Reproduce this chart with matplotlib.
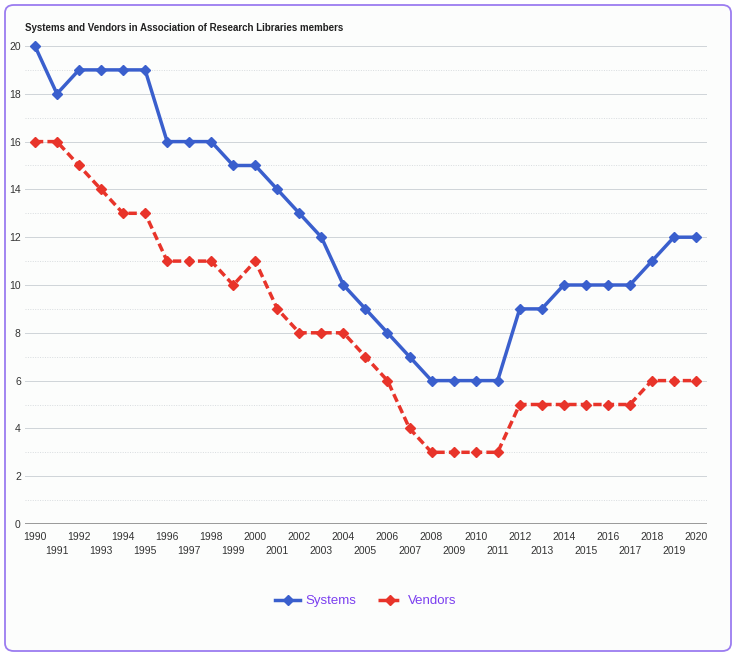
import matplotlib
matplotlib.use("Agg")
import matplotlib.pyplot as plt
from matplotlib.patches import FancyBboxPatch
from matplotlib.lines import Line2D

plt.rcParams['font.family'] = ['Liberation Sans', 'DejaVu Sans']

years = list(range(1990, 2021))
systems = [20, 18, 19, 19, 19, 19, 16, 16, 16, 15, 15, 14, 13, 12, 10, 9, 8, 7, 6, 6, 6, 6,
           9, 9, 10, 10, 10, 10, 11, 12, 12]
vendors = [16, 16, 15, 14, 13, 13, 11, 11, 11, 10, 11, 9, 8, 8, 8, 7, 6, 4, 3, 3, 3, 3,
           5, 5, 5, 5, 5, 5, 6, 6, 6]
title = "Systems and Vendors in Association of Research Libraries members"
series_names = ["Systems", "Vendors"]

blue = "#3a5fcd"
red = "#e8342a"
LW = 2.5
MS = 5.5
DASH = (0, (2.4, 1.2))
W, H = 736, 656
fig = plt.figure(figsize=(W / 100, H / 100), dpi=100)
fig.patch.set_facecolor("white")

border = FancyBboxPatch((5 / W, 5 / H), 726 / W, 646 / H,
                        boxstyle="round,pad=0,rounding_size=0.012",
                        transform=fig.transFigure, facecolor="#fcfdfc",
                        edgecolor="#9b7cf0", linewidth=1.3, zorder=-10)
fig.patches.append(border)

ax = fig.add_axes([25 / W, (H - 524) / H, 682 / W, 478 / H])
ax.set_facecolor("none")
ax.plot(years, systems, color=blue, lw=LW, marker="D", ms=MS, zorder=3, clip_on=False)
ax.plot(years, vendors, color=red, lw=LW, ls=DASH, marker="D", ms=MS, zorder=3, clip_on=False)

ax.set_xlim(1989.55, 2020.5)
ax.set_ylim(0, 20)
for y in range(2, 21, 2):
    ax.axhline(y, color="#cfd4d8", lw=0.7, zorder=1)
for y in range(1, 20, 2):
    ax.axhline(y, color="#d8dcdf", lw=0.7, ls=(0, (1, 1.5)), zorder=1)
ax.axhline(0, color="#888888", lw=1.2, zorder=2)

ax.set_yticks(range(0, 21, 2))
ax.set_yticklabels([str(v) for v in range(0, 21, 2)])
ax.set_xticks(years)
ax.set_xticklabels([str(y) if y % 2 == 0 else "\n" + str(y) for y in years],
                   linespacing=1.5)
ax.tick_params(axis="both", length=0, labelsize=7.5, labelcolor="#333333")
ax.tick_params(axis="x", pad=6)
ax.tick_params(axis="y", pad=3)
for s in ax.spines.values():
    s.set_visible(False)

fig.text(25 / W, 1 - 28 / H, title, fontsize=7, fontweight="bold", color="#222222",
         va="center", ha="left")

handles = [Line2D([], [], color=blue, lw=LW, marker="D", ms=MS),
           Line2D([], [], color=red, lw=LW, ls=DASH, marker="D", ms=MS)]
leg = fig.legend(handles, series_names, loc="center", bbox_to_anchor=(366 / W, 1 - 601 / H),
                 ncol=2, frameon=False, fontsize=9.5, handlelength=1.9, columnspacing=1.6,
                 handletextpad=0.4)
for t in leg.get_texts():
    t.set_color("#7b3ff0")

fig.savefig("out.png", dpi=100)
